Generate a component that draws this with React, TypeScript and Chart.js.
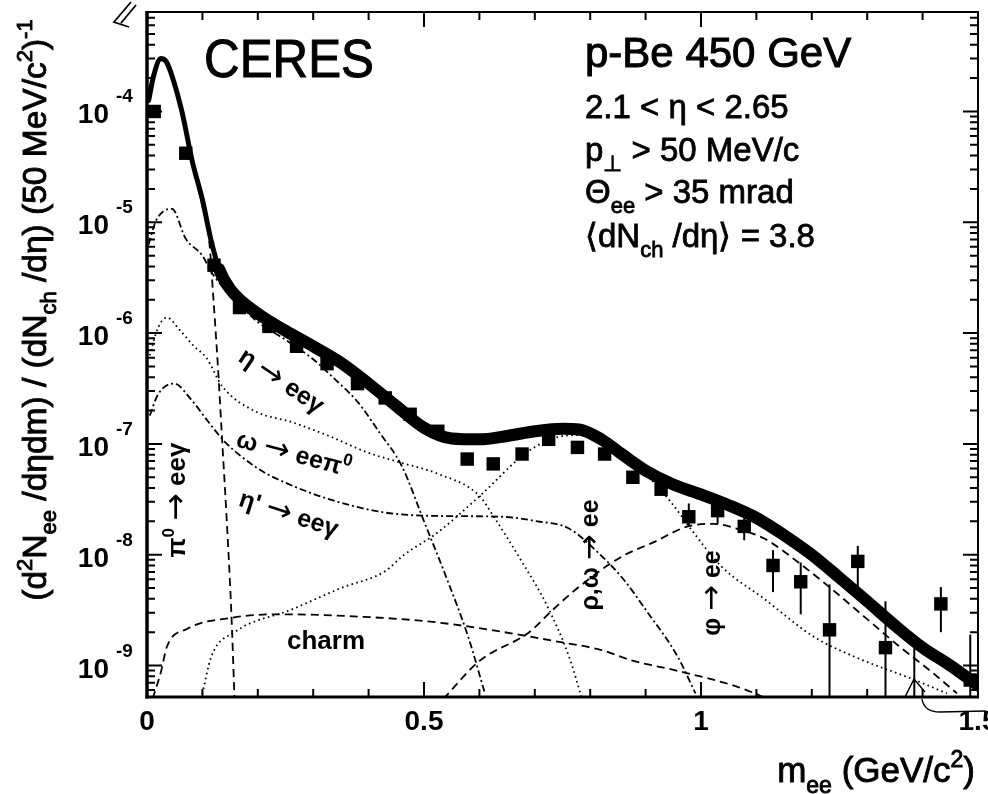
import React, { useEffect, useRef } from "react";
import { Chart, registerables } from "chart.js";

Chart.register(...registerables);

const FONT = '"Liberation Sans", Arial, Helvetica, sans-serif';
const ARROW_FONT = '"DejaVu Sans", sans-serif';

const X_MIN = 0;
const X_MAX = 1.5;
const Y_MIN = 5.2e-10;
const Y_MAX = 7.9e-4;

const xTickValues = [0, 0.5, 1, 1.5];
const xTickLabels = ["0", "0.5", "1", "1.5"];
const yDecadeExponents = [-9, -8, -7, -6, -5, -4];

// measured data points (squares)
const dataMass = [0.013, 0.07, 0.121, 0.167, 0.22, 0.27, 0.325, 0.38, 0.43, 0.475, 0.525, 0.578, 0.625, 0.677, 0.725, 0.777, 0.826, 0.877, 0.928, 0.978, 1.03, 1.078, 1.13, 1.18, 1.232, 1.283, 1.333, 1.385, 1.433, 1.486];
const dataYield = [1.0e-4, 4.2e-5, 4.1e-6, 1.7e-6, 1.15e-6, 7.6e-7, 5.3e-7, 3.5e-7, 2.6e-7, 1.85e-7, 1.3e-7, 7.3e-8, 6.6e-8, 8.1e-8, 1.1e-7, 9.3e-8, 8.1e-8, 5.0e-8, 3.9e-8, 2.2e-8, 2.5e-8, 1.8e-8, 8.0e-9, 5.7e-9, 2.1e-9, 8.7e-9, 1.45e-9, 3.0e-10, 3.6e-9, 7.4e-10];
const errLow = [null, null, null, null, null, null, null, null, null, null, null, null, null, null, null, null, null, null, null, 1.8e-8, 1.9e-8, 1.35e-8, 4.6e-9, 2.9e-9, 1e-11, 5.1e-9, 1e-11, 1e-11, 2.0e-9, 1e-11];
const errHigh = [null, null, null, null, null, null, null, null, null, null, null, null, null, null, null, null, null, null, null, 2.9e-8, 3.0e-8, 2.3e-8, 1.1e-8, 8.5e-9, 5.4e-9, 1.2e-8, 3.8e-9, 1.45e-9, 5.1e-9, 1.9e-9];

// total cocktail (thick band)
const totalMass = [0.003, 0.012, 0.025, 0.035, 0.045, 0.063, 0.082, 0.1, 0.115, 0.13, 0.15, 0.2, 0.25, 0.3, 0.35, 0.4, 0.45, 0.5, 0.55, 0.6, 0.65, 0.7, 0.75, 0.78, 0.82, 0.86, 0.9, 0.95, 1.0, 1.05, 1.1, 1.15, 1.2, 1.25, 1.3, 1.35, 1.4, 1.45, 1.5];
const totalYield = [1.26e-4, 2.1e-4, 3.0e-4, 2.8e-4, 2.1e-4, 1.0e-4, 3.5e-5, 1.6e-5, 7.1e-6, 3.8e-6, 2.5e-6, 1.5e-6, 1.05e-6, 7.6e-7, 5.4e-7, 3.5e-7, 2.2e-7, 1.4e-7, 1.12e-7, 1.1e-7, 1.18e-7, 1.3e-7, 1.37e-7, 1.35e-7, 1.1e-7, 7.9e-8, 5.75e-8, 4.3e-8, 3.5e-8, 2.8e-8, 2.15e-8, 1.5e-8, 1.0e-8, 6.2e-9, 3.8e-9, 2.3e-9, 1.45e-9, 1.0e-9, 6.6e-10];

// pi0 -> ee gamma
const pi0Mass = [0.003, 0.012, 0.025, 0.035, 0.045, 0.063, 0.082, 0.1, 0.112, 0.12, 0.128, 0.136, 0.143, 0.152, 0.158];
const pi0Yield = [1.2e-4, 2.0e-4, 2.9e-4, 2.7e-4, 2.0e-4, 9.5e-5, 3.3e-5, 1.4e-5, 7.0e-6, 2.0e-6, 5.0e-7, 1.0e-7, 2.5e-8, 3.2e-9, 5.0e-10];

// eta -> ee gamma
const etaMass = [0.003, 0.015, 0.03, 0.045, 0.07, 0.1, 0.117, 0.15, 0.2, 0.25, 0.3, 0.34, 0.38, 0.42, 0.46, 0.5, 0.54, 0.58, 0.61];
const etaYield = [6.3e-6, 1.0e-5, 1.26e-5, 1.32e-5, 7.1e-6, 5.0e-6, 3.5e-6, 2.2e-6, 1.26e-6, 8.7e-7, 5.8e-7, 3.8e-7, 2.4e-7, 1.26e-7, 6.3e-8, 2.0e-8, 6.3e-9, 1.8e-9, 5.6e-10];

// omega -> ee pi0
const omegaDalitzMass = [0.005, 0.02, 0.036, 0.06, 0.085, 0.107, 0.136, 0.197, 0.26, 0.33, 0.4, 0.457, 0.524, 0.6, 0.625, 0.674, 0.723, 0.764, 0.785];
const omegaDalitzYield = [6.3e-7, 1.12e-6, 1.38e-6, 1.05e-6, 7.6e-7, 6.0e-7, 3.3e-7, 1.95e-7, 1.58e-7, 1.17e-7, 8.3e-8, 6.8e-8, 5.4e-8, 3.4e-8, 2.24e-8, 9.1e-9, 3.4e-9, 1.12e-9, 5.0e-10];

// eta' -> ee gamma
const etaPrimeMass = [0.005, 0.02, 0.049, 0.08, 0.11, 0.14, 0.2, 0.236, 0.326, 0.43, 0.52, 0.64, 0.705, 0.76, 0.82, 0.86, 0.904, 0.958, 0.99];
const etaPrimeYield = [1.8e-7, 2.8e-7, 3.5e-7, 2.5e-7, 1.6e-7, 1.05e-7, 6.0e-8, 4.8e-8, 3.2e-8, 2.4e-8, 2.24e-8, 2.2e-8, 2.0e-8, 1.74e-8, 9.8e-9, 6.0e-9, 3.0e-9, 1.2e-9, 5.6e-10];

// rho, omega -> ee
const rhoMass = [0.098, 0.116, 0.158, 0.261, 0.35, 0.43, 0.462, 0.524, 0.601, 0.687, 0.741, 0.78, 0.82, 0.85, 0.909, 0.95, 0.982, 1.036, 1.114, 1.205, 1.277, 1.386, 1.444];
const rhoYield = [5.0e-10, 1.2e-9, 2.0e-9, 3.2e-9, 5.0e-9, 7.1e-9, 9.8e-9, 1.58e-8, 3.4e-8, 8.5e-8, 1.15e-7, 1.2e-7, 1.0e-7, 7.8e-8, 4.8e-8, 2.8e-8, 1.7e-8, 7.9e-9, 4.0e-9, 1.8e-9, 1.2e-9, 7.4e-10, 5.6e-10];

// phi -> ee
const phiMass = [0.535, 0.6, 0.69, 0.73, 0.777, 0.855, 0.915, 0.976, 1.023, 1.067, 1.114, 1.176, 1.236, 1.295, 1.357, 1.417, 1.462];
const phiYield = [5.0e-10, 1.1e-9, 2.0e-9, 3.1e-9, 5.0e-9, 9.5e-9, 1.3e-8, 1.8e-8, 1.9e-8, 1.7e-8, 1.4e-8, 8.5e-9, 4.9e-9, 2.75e-9, 1.5e-9, 8.7e-10, 5.6e-10];

// charm
const charmMass = [0.01, 0.025, 0.036, 0.072, 0.153, 0.236, 0.42, 0.524, 0.645, 0.736, 0.82, 0.873, 0.96, 1.05, 1.09, 1.12];
const charmYield = [5.0e-10, 8.7e-10, 1.48e-9, 2.14e-9, 2.7e-9, 2.9e-9, 2.7e-9, 2.45e-9, 2.0e-9, 1.66e-9, 1.38e-9, 1.12e-9, 8.9e-10, 6.8e-10, 5.8e-10, 5.0e-10];

type Kind = "n" | "b" | "p" | "a";
type Part = [string, Kind];

function partFont(k: Kind, size: number, weight: string) {
  if (k === "a") return `normal ${Math.round(size * 1.25)}px ${ARROW_FONT}`;
  const s = k === "n" ? size : Math.round(size * 0.66);
  return `${weight} ${s}px ${FONT}`;
}

function richWidth(ctx: CanvasRenderingContext2D, parts: Part[], size: number, weight: string) {
  let w = 0;
  for (const [t, k] of parts) {
    ctx.font = partFont(k, size, weight);
    w += ctx.measureText(t).width;
  }
  return w;
}

function drawRich(
  ctx: CanvasRenderingContext2D,
  parts: Part[],
  x: number,
  y: number,
  size: number,
  align: "left" | "center" | "right",
  weight = "normal",
  thick = 0
) {
  const w = richWidth(ctx, parts, size, weight);
  let cx = align === "left" ? x : align === "center" ? x - w / 2 : x - w;
  ctx.textAlign = "left";
  ctx.textBaseline = "alphabetic";
  for (const [t, k] of parts) {
    ctx.font = partFont(k, size, weight);
    const dy = k === "b" ? size * 0.3 : k === "p" ? -size * 0.42 : k === "a" ? size * 0.04 : 0;
    ctx.fillText(t, cx, y + dy);
    if (thick > 0) {
      ctx.lineWidth = thick;
      ctx.strokeText(t, cx, y + dy);
    }
    cx += ctx.measureText(t).width;
  }
}

function drawRotated(
  ctx: CanvasRenderingContext2D,
  parts: Part[],
  cx: number,
  cy: number,
  angleDeg: number,
  size: number,
  weight = "bold"
) {
  ctx.save();
  ctx.translate(cx, cy);
  ctx.rotate((angleDeg * Math.PI) / 180);
  drawRich(ctx, parts, 0, size * 0.35, size, "center", weight);
  ctx.restore();
}

const overlayPlugin = {
  id: "overlay",
  afterDatasetsDraw(chart: any) {
    const ctx: CanvasRenderingContext2D = chart.ctx;
    const xs = chart.scales.x;
    const ys = chart.scales.y;
    const { left, right, top, bottom } = chart.chartArea;
    ctx.save();
    ctx.beginPath();
    ctx.rect(left, top, right - left, bottom - top);
    ctx.clip();
    ctx.strokeStyle = "#000";
    ctx.lineWidth = 2;
    for (let i = 0; i < dataMass.length; i++) {
      const lo = errLow[i];
      const hi = errHigh[i];
      if (lo == null || hi == null) continue;
      const px = xs.getPixelForValue(dataMass[i]);
      const y1 = ys.getPixelForValue(Math.max(lo, 1e-12));
      const y2 = ys.getPixelForValue(hi);
      ctx.beginPath();
      ctx.moveTo(px, Math.min(y1, bottom + 5));
      ctx.lineTo(px, y2);
      ctx.stroke();
    }
    ctx.restore();
  },
  afterDraw(chart: any) {
    const ctx: CanvasRenderingContext2D = chart.ctx;
    const xs = chart.scales.x;
    const ys = chart.scales.y;
    const { left, right, top, bottom } = chart.chartArea;
    ctx.save();
    ctx.fillStyle = "#000";
    ctx.strokeStyle = "#000";

    // frame
    ctx.lineCap = "butt";
    ctx.lineWidth = 3.5;
    ctx.beginPath();
    ctx.moveTo(left, top - 1);
    ctx.lineTo(left, bottom + 1.5);
    ctx.stroke();
    ctx.lineWidth = 3;
    ctx.beginPath();
    ctx.moveTo(left - 1.5, bottom);
    ctx.lineTo(right + 1, bottom);
    ctx.stroke();
    ctx.lineWidth = 2;
    ctx.beginPath();
    ctx.moveTo(left, top);
    ctx.lineTo(right, top);
    ctx.lineTo(right, bottom);
    ctx.stroke();

    // x ticks (inward, bottom and top)
    ctx.lineWidth = 2;
    for (let k = 0; k <= 15; k++) {
      const v = k / 10;
      const px = xs.getPixelForValue(v);
      const major = k % 5 === 0;
      const len = major ? 15 : 8;
      ctx.beginPath();
      ctx.moveTo(px, bottom);
      ctx.lineTo(px, bottom - len);
      ctx.moveTo(px, top);
      ctx.lineTo(px, top + len);
      ctx.stroke();
    }
    // y ticks (inward, left and right)
    for (let e = -10; e <= -3; e++) {
      for (let m = 1; m <= 9; m++) {
        const v = m * Math.pow(10, e);
        if (v < Y_MIN || v > Y_MAX) continue;
        const py = ys.getPixelForValue(v);
        const len = m === 1 ? 15 : 8;
        ctx.beginPath();
        ctx.moveTo(left, py);
        ctx.lineTo(left + len, py);
        ctx.moveTo(right, py);
        ctx.lineTo(right - len, py);
        ctx.stroke();
      }
    }

    // x tick labels
    ctx.textAlign = "center";
    ctx.textBaseline = "alphabetic";
    ctx.font = `bold 28px ${FONT}`;
    xTickValues.forEach((v, i) => {
      ctx.fillText(xTickLabels[i], xs.getPixelForValue(v), 730);
    });

    // y tick labels 10^n
    yDecadeExponents.forEach((e) => {
      const py = ys.getPixelForValue(Math.pow(10, e));
      ctx.textAlign = "right";
      ctx.font = `bold 28px ${FONT}`;
      ctx.fillText("10", 109, py + 12);
      ctx.textAlign = "left";
      ctx.font = `bold 19px ${FONT}`;
      ctx.fillText(String(e), 116, py - 9);
    });

    // axis titles
    ctx.save();
    ctx.translate(46, 310);
    ctx.rotate(-Math.PI / 2);
    drawRich(
      ctx,
      [
        ["(d", "n"],
        ["2", "p"],
        ["N", "n"],
        ["ee", "b"],
        [" /dηdm) / (dN", "n"],
        ["ch", "b"],
        [" /dη) (50 MeV/c", "n"],
        ["2", "p"],
        [")", "n"],
        ["-1", "p"],
      ],
      0,
      0,
      33.5,
      "center",
      "normal",
      0.9
    );
    ctx.restore();

    drawRich(
      ctx,
      [
        ["m", "n"],
        ["ee", "b"],
        [" (GeV/c", "n"],
        ["2", "p"],
        [")", "n"],
      ],
      975,
      782,
      35,
      "right",
      "normal",
      0.9
    );

    // annotations
    ctx.save();
    ctx.translate(289, 77);
    ctx.scale(0.93, 1);
    ctx.textAlign = "center";
    ctx.font = `53px ${FONT}`;
    ctx.fillText("CERES", 0, 0);
    ctx.lineWidth = 1;
    ctx.strokeText("CERES", 0, 0);
    ctx.restore();

    drawRich(ctx, [["p-Be 450 GeV", "n"]], 585, 67, 42, "left", "normal", 1);
    drawRich(ctx, [["2.1 < η < 2.65", "n"]], 585, 118, 33, "left", "normal", 0.8);
    drawRich(ctx, [["p", "n"], ["⊥", "b"], [" > 50 MeV/c", "n"]], 585, 161, 33, "left", "normal", 0.8);
    drawRich(ctx, [["Θ", "n"], ["ee", "b"], [" > 35 mrad", "n"]], 585, 203, 33, "left", "normal", 0.8);
    drawRich(ctx, [["⟨dN", "n"], ["ch", "b"], [" /dη⟩ = 3.8", "n"]], 585, 247, 33, "left", "normal", 0.8);

    // curve labels
    drawRotated(ctx, [["η ", "n"], ["→", "a"], [" eeγ", "n"]], 282, 380, 34, 25);
    drawRotated(ctx, [["ω ", "n"], ["→", "a"], [" eeπ", "n"], ["0", "p"]], 294, 453, 15, 25);
    drawRotated(ctx, [["η' ", "n"], ["→", "a"], [" eeγ", "n"]], 289, 513, 18, 25);
    drawRotated(ctx, [["π", "n"], ["0", "p"], [" ", "n"], ["→", "a"], [" eeγ", "n"]], 176, 500, -90, 26);
    drawRotated(ctx, [["charm", "n"]], 326, 640, 0, 26);
    drawRotated(ctx, [["ρ,ω ", "n"], ["→", "a"], [" ee", "n"]], 589, 555, -90, 25);
    drawRotated(ctx, [["φ ", "n"], ["→", "a"], [" ee", "n"]], 711, 593, -90, 25);

    // hand-drawn marks from the scanned original
    ctx.lineWidth = 1.8;
    ctx.beginPath();
    ctx.moveTo(131, 2);
    ctx.lineTo(114, 22);
    ctx.lineTo(129, 27);
    ctx.moveTo(136, 5);
    ctx.lineTo(121, 23);
    ctx.stroke();
    ctx.lineWidth = 1.5;
    ctx.beginPath();
    ctx.moveTo(905, 697);
    ctx.lineTo(914, 679);
    ctx.lineTo(925, 692);
    ctx.stroke();
    ctx.beginPath();
    ctx.moveTo(922, 699);
    ctx.quadraticCurveTo(924, 712, 940, 712);
    ctx.lineTo(986, 711);
    ctx.stroke();

    ctx.restore();
  },
};

const pts = (m: number[], v: number[]) => m.map((x, i) => ({ x, y: v[i] }));

function curve(label: string, m: number[], v: number[], dash: number[], width = 1.8) {
  return {
    label,
    data: pts(m, v),
    borderColor: "#000",
    backgroundColor: "#000",
    borderWidth: width,
    borderDash: dash,
    pointRadius: 0,
    fill: false,
    cubicInterpolationMode: "monotone" as const,
  };
}

export default function App() {
  const ref = useRef<HTMLCanvasElement | null>(null);

  useEffect(() => {
    document.body.style.margin = "0";
    const canvas = ref.current;
    if (!canvas) return;
    const chart = new Chart(canvas, {
      type: "line",
      data: {
        datasets: [
          curve("charm", charmMass, charmYield, [8, 5]),
          curve("phi -> ee", phiMass, phiYield, [8, 5]),
          curve("rho,omega -> ee", rhoMass, rhoYield, [1.6, 3.4]),
          curve("eta' -> ee gamma", etaPrimeMass, etaPrimeYield, [7, 3, 2, 3]),
          curve("omega -> ee pi0", omegaDalitzMass, omegaDalitzYield, [1.6, 3.4]),
          curve("eta -> ee gamma", etaMass, etaYield, [7, 3, 2, 3]),
          curve("pi0 -> ee gamma", pi0Mass, pi0Yield, [8, 5]),
          {
            label: "total",
            data: pts(totalMass, totalYield),
            borderColor: "#000",
            backgroundColor: "#000",
            borderWidth: 12,
            pointRadius: 0,
            fill: false,
            borderJoinStyle: "round",
            borderCapStyle: "round",
            cubicInterpolationMode: "monotone",
            segment: {
              borderWidth: (c: any) => (c.p0.parsed.x < 0.13 ? 5 : 12),
            },
          } as any,
          {
            label: "data",
            data: pts(dataMass, dataYield),
            showLine: false,
            pointStyle: "rect",
            pointRadius: 9.5,
            pointHoverRadius: 9.5,
            borderWidth: 0,
            backgroundColor: "#000",
            borderColor: "#000",
          } as any,
        ],
      },
      options: {
        animation: false,
        responsive: false,
        maintainAspectRatio: false,
        devicePixelRatio: 1,
        layout: { padding: { left: 147, right: 10, top: 12, bottom: 97 } },
        plugins: {
          legend: { display: false },
          tooltip: { enabled: false },
        },
        events: [],
        scales: {
          x: { type: "linear", min: X_MIN, max: X_MAX, display: false },
          y: { type: "logarithmic", min: Y_MIN, max: Y_MAX, display: false },
        },
      },
      plugins: [overlayPlugin],
    });
    return () => chart.destroy();
  }, []);

  return (
    <div style={{ position: "absolute", left: 0, top: 0, width: 988, height: 794, background: "#fff" }}>
      <canvas ref={ref} width={988} height={794} style={{ display: "block", width: 988, height: 794 }} />
    </div>
  );
}
